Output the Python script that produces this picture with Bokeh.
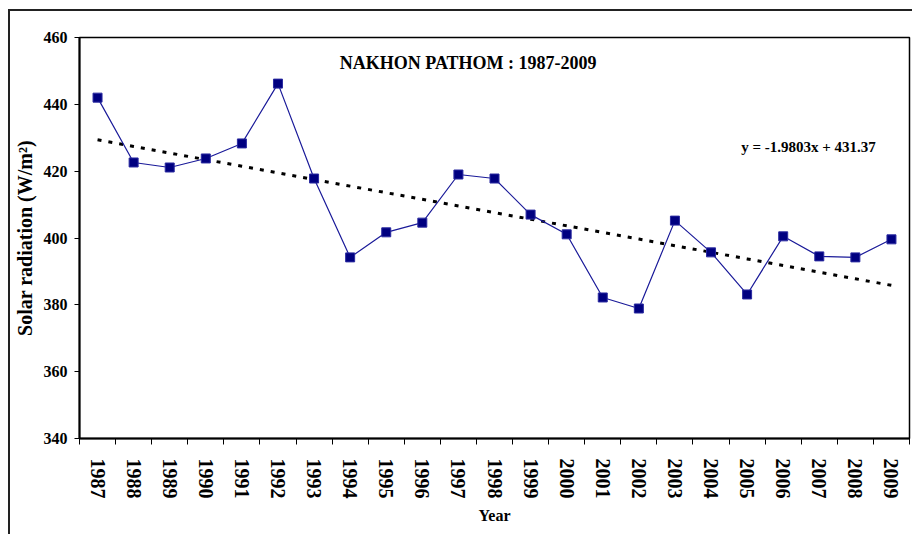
from bokeh.plotting import figure
from bokeh.models import FixedTicker, Label, ColumnDataSource
from bokeh.embed import file_html
from bokeh.resources import INLINE

years = [str(y) for y in range(1987, 2010)]
radiation = [442.0, 422.6, 421.1, 423.8, 428.3, 446.2, 417.8, 394.2, 401.7, 404.6,
             419.0, 417.8, 407.0, 401.1, 382.2, 378.9, 405.2, 395.7, 383.1, 400.5,
             394.5, 394.2, 399.6]
trend_slope = -1.9803
trend_intercept = 431.37
y_ticks = [340, 360, 380, 400, 420, 440, 460]
title_text = "NAKHON PATHOM : 1987-2009"
equation_text = "y = -1.9803x + 431.37"

idx = list(range(1, len(years) + 1))
trend = [trend_slope * i + trend_intercept for i in idx]
src = ColumnDataSource(dict(x=idx, y=radiation, trend=trend))

FONT = "Liberation Serif"

p = figure(width=904, height=525, output_backend="svg", toolbar_location=None,
           x_range=(0.5, len(years) + 0.5), y_range=(y_ticks[0], y_ticks[-1]),
           min_border_left=64, min_border_top=26, min_border_right=5, min_border_bottom=98)
p.styles = {"margin-left": "8px", "margin-top": "9px",
            "border-top": "2px solid #222", "border-left": "2px solid #222"}
p.background_fill_color = "white"
p.border_fill_color = "white"
p.outline_line_color = "black"
p.outline_line_width = 1.5
p.xgrid.visible = False
p.ygrid.visible = False

# trend line
p.line("x", "trend", source=src, line_color="black", line_width=3, line_dash="4 7")
# data
p.line("x", "y", source=src, line_color="#1a1a99", line_width=1.2)
p.scatter("x", "y", source=src, marker="square", size=9, fill_color="#000080",
          line_color="#2a2aa0", line_width=1)

# x axis
xa = p.xaxis[0]
xa.ticker = FixedTicker(ticks=idx, minor_ticks=[i - 0.5 for i in idx] + [len(idx) + 0.5])
xa.major_label_overrides = {i: y for i, y in zip(idx, years)}
xa.major_label_orientation = "vertical"
xa.major_tick_line_color = None
xa.major_tick_out = 0
xa.major_tick_in = 0
xa.minor_tick_out = 6
xa.minor_tick_in = 0
xa.minor_tick_line_color = "black"
xa.minor_tick_line_width = 1
xa.major_label_standoff = 14
xa.major_label_text_font = FONT
xa.major_label_text_font_style = "bold"
xa.major_label_text_font_size = "20px"
xa.major_label_text_color = "black"
xa.axis_line_width = 2
xa.axis_label = "Year"
xa.axis_label_text_font = FONT
xa.axis_label_text_font_style = "bold"
xa.axis_label_text_font_size = "16px"
xa.axis_label_text_color = "black"
xa.axis_label_standoff = 5

# y axis
ya = p.yaxis[0]
ya.ticker = FixedTicker(ticks=y_ticks)
ya.minor_tick_line_color = None
ya.major_tick_out = 5
ya.major_tick_in = 0
ya.major_label_standoff = 7
ya.major_label_text_font = FONT
ya.major_label_text_font_style = "bold"
ya.major_label_text_font_size = "16px"
ya.major_label_text_color = "black"
ya.axis_line_width = 2
ya.axis_label = "Solar radiation (W/m²)"
ya.axis_label_text_font = FONT
ya.axis_label_text_font_style = "bold"
ya.axis_label_text_font_size = "20px"
ya.axis_label_text_color = "black"
ya.axis_label_standoff = 5

p.add_layout(Label(x=11.27, y=452.5, text=title_text, text_align="center",
                   text_baseline="middle", text_font=FONT, text_font_style="bold",
                   text_font_size="18px", text_color="black"))
p.add_layout(Label(x=20.7, y=427.1, text=equation_text, text_align="center",
                   text_baseline="middle", text_font=FONT, text_font_style="bold",
                   text_font_size="15px", text_color="black"))

open("out.html", "w").write(file_html(p, INLINE))
